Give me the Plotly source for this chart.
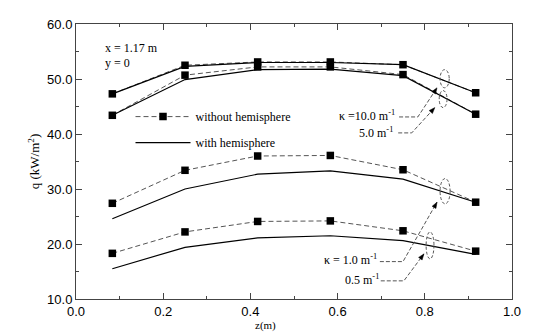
import math
import plotly.graph_objects as go

z = [1/12, 3/12, 5/12, 7/12, 9/12, 11/12]

# without hemisphere (dashed, markers)
q10_wo = [47.3, 52.5, 53.1, 53.1, 52.6, 47.5]
q5_wo = [43.4, 50.7, 52.2, 52.2, 50.8, 43.6]
q1_wo = [27.4, 33.4, 36.0, 36.1, 33.5, 27.6]
q05_wo = [18.3, 22.2, 24.1, 24.2, 22.4, 18.7]
# with hemisphere (solid)
q10_w = [47.3, 52.3, 53.0, 53.0, 52.6, 47.5]
q5_w = [43.4, 49.9, 51.7, 51.8, 50.6, 43.6]
q1_w = [24.6, 30.0, 32.7, 33.3, 31.8, 27.6]
q05_w = [15.5, 19.4, 21.1, 21.5, 20.6, 18.1]

x_ticks = [0.0, 0.2, 0.4, 0.6, 0.8, 1.0]
y_ticks = [10, 20, 30, 40, 50, 60]

serif = "Liberation Serif"
sans = "Liberation Sans"
dash_col = "#555"

fig = go.Figure()

wo_sets = [q10_wo, q5_wo, q1_wo, q05_wo]
w_sets = [q10_w, q5_w, q1_w, q05_w]
for i, s in enumerate(wo_sets):
    fig.add_trace(go.Scatter(x=z, y=s, mode="lines+markers",
                             line=dict(color=dash_col, width=1, dash="5px,3px"),
                             marker=dict(symbol="square", size=7.5, color="black"),
                             name="without hemisphere", legendgroup="a",
                             showlegend=(i == 0)))
for i, s in enumerate(w_sets):
    fig.add_trace(go.Scatter(x=z, y=s, mode="lines",
                             line=dict(color="black", width=1.2),
                             name="with hemisphere", legendgroup="b",
                             showlegend=(i == 0)))

fig.update_layout(
    width=543, height=336,
    margin=dict(l=76, r=31, t=24, b=37),
    paper_bgcolor="white", plot_bgcolor="white",
    font=dict(family=sans, size=13, color="black"),
    legend=dict(x=0.125, y=0.716, xanchor="left", yanchor="top",
                font=dict(family=serif, size=12), bgcolor="rgba(0,0,0,0)",
                traceorder="grouped", tracegroupgap=7, itemwidth=55),
    showlegend=True,
)
axis_common = dict(showline=True, linecolor="#444", linewidth=1, mirror="allticks",
                   ticks="inside", ticklen=6, tickcolor="#444",
                   showgrid=False, zeroline=False)
fig.update_xaxes(range=[0, 1], tickvals=x_ticks, tickformat=".1f",
                 minor=dict(dtick=0.1, ticks="inside", ticklen=3, tickcolor="#444"),
                 **axis_common)
fig.update_yaxes(range=[10, 60], tickvals=y_ticks, tickformat=".1f",
                 minor=dict(dtick=5, ticks="inside", ticklen=3, tickcolor="#444"),
                 title=dict(text="q (kW/m<sup>2</sup>)", font=dict(family=serif, size=13), standoff=4),
                 **axis_common)

ann = []
ann.append(dict(x=0.062, y=55.7, xref="x", yref="y", text="x = 1.17 m", showarrow=False,
                xanchor="left", font=dict(family=serif, size=12)))
ann.append(dict(x=0.062, y=52.9, xref="x", yref="y", text="y = 0", showarrow=False,
                xanchor="left", font=dict(family=serif, size=12)))
ann.append(dict(x=0.435, y=-0.065, xref="x", yref="paper", text="z(m)", showarrow=False,
                yanchor="top", font=dict(family=serif, size=11)))

labels = [
    ("κ =10.0 m<sup>-1</sup>", 0.737, 43.4),
    ("5.0 m<sup>-1</sup>", 0.732, 40.2),
    ("κ = 1.0 m<sup>-1</sup>", 0.695, 17.1),
    ("0.5 m<sup>-1</sup>", 0.699, 13.6),
]
for t, x, y in labels:
    ann.append(dict(x=x, y=y, xref="x", yref="y", text=t, showarrow=False,
                    xanchor="right", font=dict(family=serif, size=12)))

# leader lines: (x_start, y, x_corner, x_tip, y_tip)
PX_X = 436.0   # pixels per unit of z
PX_Y = 5.5     # pixels per unit of q
leaders = [
    (0.741, 43.1, 0.784, 0.828, 48.4),
    (0.739, 40.2, 0.770, 0.823, 44.8),
    (0.697, 16.8, 0.750, 0.828, 27.6),
    (0.699, 13.3, 0.752, 0.798, 18.2),
]
shapes = []
for xs, y, xc, xt, yt in leaders:
    shapes.append(dict(type="path", path=f"M {xs},{y} L {xc},{y} L {xt},{yt}",
                       xref="x", yref="y",
                       line=dict(color=dash_col, width=1, dash="4px,2px")))
    # arrowhead (computed in pixel space, then converted back)
    dx = (xt - xc) * PX_X
    dy = (yt - y) * PX_Y
    L = math.hypot(dx, dy)
    ux, uy = dx / L, dy / L
    hl, hw = 6.0, 2.2
    bx, by = -ux * hl, -uy * hl
    p1 = (xt + (bx - uy * hw) / PX_X, yt + (by + ux * hw) / PX_Y)
    p2 = (xt + (bx + uy * hw) / PX_X, yt + (by - ux * hw) / PX_Y)
    shapes.append(dict(type="path",
                       path=f"M {xt},{yt} L {p1[0]},{p1[1]} L {p2[0]},{p2[1]} Z",
                       xref="x", yref="y", fillcolor="black",
                       line=dict(color="black", width=0.5)))

ellipses = [
    (0.835, 48.4, 0.856, 51.7),
    (0.833, 44.8, 0.851, 47.9),
    (0.835, 27.3, 0.858, 31.9),
    (0.803, 17.3, 0.821, 22.2),
]
for x0, y0, x1, y1 in ellipses:
    shapes.append(dict(type="circle", x0=x0, y0=y0, x1=x1, y1=y1, xref="x", yref="y",
                       line=dict(color=dash_col, width=1, dash="3px,2px")))

fig.update_layout(annotations=ann, shapes=shapes)
fig.write_html("out.html")
